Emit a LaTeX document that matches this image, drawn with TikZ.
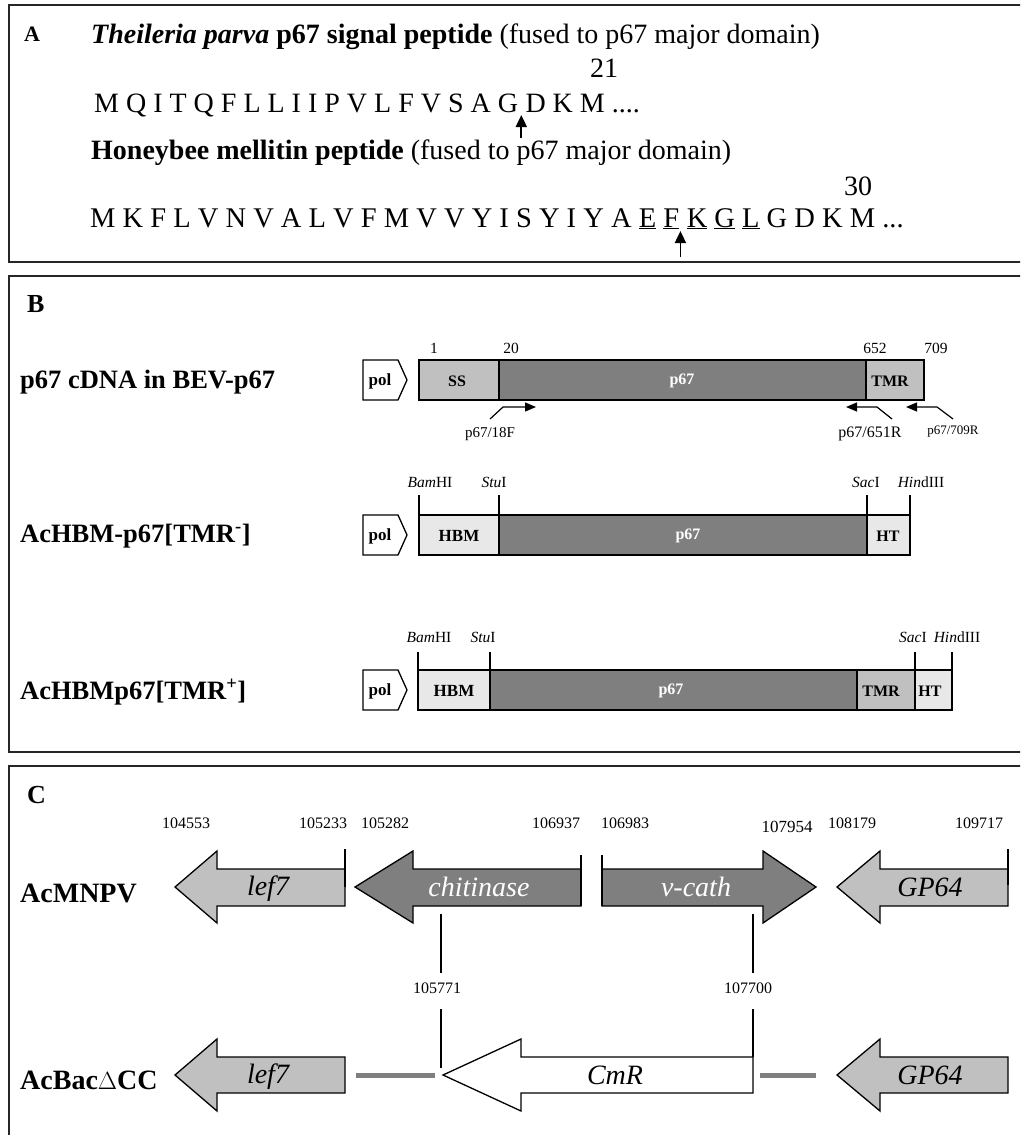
\documentclass[tikz,border=0pt]{standalone}
\usepackage{fontspec}
\setmainfont{Liberation Serif}
\usetikzlibrary{arrows.meta}
\definecolor{lgray}{HTML}{C0C0C0}
\definecolor{dgray}{HTML}{7F7F7F}
\definecolor{vlgray}{HTML}{E8E8E8}
\newcommand{\fsz}[1]{\fontsize{#1}{#1}\selectfont}
\newcommand{\myul}[1]{\underline{#1}}
\begin{document}
\begin{tikzpicture}[x=1pt,y=-1pt,
  panel/.style={draw=black!85, line width=1.6pt},
  txt/.style={anchor=base west, inner sep=0pt, font=\fsz{28}},
  seqtxt/.style={anchor=base west, inner sep=0pt, font=\fsz{28.5}},
  rowlbl/.style={anchor=base west, inner sep=0pt, font=\fsz{26.5}\bfseries},
  seg/.style={draw=black, line width=1.3pt},
  boxtxt/.style={inner sep=0pt, font=\fsz{16}\bfseries},
  small/.style={anchor=base, inner sep=0pt, font=\fsz{15.5}},
  cutarrow/.style={line width=1.8pt, -{Triangle[length=12pt,width=11pt]}},
  primer/.style={line width=1.2pt, line join=round, -{Triangle[length=11pt,width=9pt]}},
  site/.style={line width=1.2pt},
  gene/.style={draw=black, line width=1.3pt, line join=miter},
  genetxt/.style={inner sep=0pt, font=\fsz{28}\itshape},
  num/.style={anchor=base, inner sep=0pt, font=\fsz{16}},
  tick/.style={line width=1.8pt},
  vline/.style={line width=1.3pt},
  gap/.style={line width=5pt, dgray}
]
\useasboundingbox (0,0) rectangle (1020,1135);
\clip (0,0) rectangle (1020,1135);
\fill[white] (0,0) rectangle (1020,1135);
% ---------- panels
\draw[panel] (9,5) rectangle (1040,262);
\draw[panel] (9,276) rectangle (1040,752);
\draw[panel] (9,766) rectangle (1040,1150);

% ---------- panel A
\node[anchor=base west, inner sep=0pt, font=\fsz{22}\bfseries] (labA) at (24,41) {A};
\node[txt] (h1) at (91,43) {\textbf{\textit{Theileria parva} p67 signal peptide} (fused to p67 major domain)};
\node[txt, anchor=base] (n21) at (604,77) {21};
\node[seqtxt, font=\fsz{28}] (seq1a) at (94,112) {M Q I T Q F L L I I P V L F V S A G};
\node[seqtxt, font=\fsz{28}] (seq1b) at (seq1a.base east) {\ D K M ....};
\coordinate (a1t) at ([xshift=3pt,yshift=-3pt]seq1a.base east);
\coordinate (a1b) at ([xshift=3pt,yshift=-26pt]seq1a.base east);
\draw[cutarrow] (a1b) -- (a1t);
\node[txt] (h2) at (91,159) {\textbf{Honeybee mellitin peptide} (fused to p67 major domain)};
\node[txt, anchor=base] (n30) at (858,195) {30};
\node[seqtxt] (seq2a) at (90,227) {M K F L V N V A L V F M V V Y I S Y I Y A \myul{E} \myul{F}};
\node[seqtxt] (seq2b) at (seq2a.base east) {\ \myul{K} \myul{G} \myul{L} G D K M ...};
\coordinate (a2t) at ([xshift=1pt,yshift=-4pt]seq2a.base east);
\coordinate (a2b) at ([xshift=1pt,yshift=-30pt]seq2a.base east);
\draw[cutarrow] (a2b) -- (a2t);

% ---------- panel B
\node[anchor=base west, inner sep=0pt, font=\fsz{26}\bfseries] (labB) at (27,312) {B};
\node[rowlbl] (r1) at (20,388) {p67 cDNA in BEV-p67};
\node[rowlbl] (r2) at (20,542) {AcHBM-p67[TMR\textsuperscript{-}]};
\node[rowlbl] (r3) at (20,699) {AcHBMp67[TMR\textsuperscript{+}]};

% row 1
\draw[seg, fill=white] (363,360) -- (398,360) -- (407,380) -- (398,400) -- (363,400) -- cycle;
\node[boxtxt, font=\fsz{17}\bfseries] (pol1) at (380,381) {pol};
\draw[seg, fill=lgray] (419,360) rectangle (499,400);
\node[boxtxt] (ss1) at (457,381) {SS};
\draw[seg, fill=dgray] (499,360) rectangle (866,400);
\node[boxtxt, text=white] (p671) at (682,381) {p67};
\draw[seg, fill=lgray] (866,360) rectangle (924,400);
\node[boxtxt] (tmr1) at (890,381) {TMR};
\node[small] (k1) at (434,353) {1};
\node[small] (k20) at (511,353) {20};
\node[small] (k652) at (875,353) {652};
\node[small] (k709) at (936,353) {709};
% primers
\coordinate (pf0) at (490,419);
\coordinate (pf1) at (503,407);
\coordinate (pf2) at (536,407);
\draw[primer] (pf0) -- (pf1) -- (pf2);
\node[anchor=base, inner sep=0pt, font=\fsz{15}] (pf) at (490,437) {p67/18F};
\coordinate (pr0) at (892,419);
\coordinate (pr1) at (877,407);
\coordinate (pr2) at (846,407);
\draw[primer] (pr0) -- (pr1) -- (pr2);
\node[anchor=base, inner sep=0pt, font=\fsz{16}] (pr) at (870,437) {p67/651R};
\coordinate (pq0) at (953,419);
\coordinate (pq1) at (937,407);
\coordinate (pq2) at (906,407);
\draw[primer] (pq0) -- (pq1) -- (pq2);
\node[anchor=base, inner sep=0pt, font=\fsz{13}] (pq) at (953,434) {p67/709R};

% row 2
\draw[seg, fill=white] (363,515) -- (398,515) -- (407,535) -- (398,555) -- (363,555) -- cycle;
\node[boxtxt, font=\fsz{17}\bfseries] (pol2) at (380,536) {pol};
\draw[seg, fill=vlgray] (419,515) rectangle (499,555);
\node[boxtxt, font=\fsz{17}\bfseries] (hbm2) at (459,536) {HBM};
\draw[seg, fill=dgray] (499,515) rectangle (867,555);
\node[boxtxt, text=white] (p672) at (688,536) {p67};
\draw[seg, fill=vlgray] (867,515) rectangle (910,555);
\node[boxtxt] (ht2) at (888,536) {HT};
\foreach \xx in {419,499,867,910} \draw[site] (\xx,495) -- (\xx,515);
\node[small] (bam2) at (430,487) {\textit{Bam}HI};
\node[small] (stu2) at (494,487) {\textit{Stu}I};
\node[small] (sac2) at (866,487) {\textit{Sac}I};
\node[small] (hin2) at (921,487) {\textit{Hin}dIII};

% row 3
\draw[seg, fill=white] (363,670) -- (398,670) -- (407,690) -- (398,710) -- (363,710) -- cycle;
\node[boxtxt, font=\fsz{17}\bfseries] (pol3) at (380,691) {pol};
\draw[seg, fill=vlgray] (418,670) rectangle (490,710);
\node[boxtxt, font=\fsz{17}\bfseries] (hbm3) at (454,691) {HBM};
\draw[seg, fill=dgray] (490,670) rectangle (857,710);
\node[boxtxt, text=white] (p673) at (671,691) {p67};
\draw[seg, fill=lgray] (857,670) rectangle (915,710);
\node[boxtxt] (tmr3) at (881,691) {TMR};
\draw[seg, fill=vlgray] (915,670) rectangle (952,710);
\node[boxtxt] (ht3) at (930,691) {HT};
\foreach \xx in {418,490,915,952} \draw[site] (\xx,652) -- (\xx,670);
\node[small] (bam3) at (429,642) {\textit{Bam}HI};
\node[small] (stu3) at (483,642) {\textit{Stu}I};
\node[small] (sac3) at (913,642) {\textit{Sac}I};
\node[small] (hin3) at (957,642) {\textit{Hin}dIII};

% ---------- panel C
\node[anchor=base west, inner sep=0pt, font=\fsz{26}\bfseries] (labC) at (27,803) {C};
\node[anchor=base west, inner sep=0pt, font=\fsz{28}\bfseries] (rc1) at (20,902) {AcMNPV};
\node[anchor=base west, inner sep=0pt, font=\fsz{28}\bfseries] (rc2) at (20,1089) {AcBac$\Delta$CC};

\node[num] (c1) at (186,828) {104553};
\node[num] (c2) at (323,828) {105233};
\node[num] (c3) at (385,828) {105282};
\node[num] (c4) at (556,828) {106937};
\node[num] (c5) at (625,828) {106983};
\node[num, font=\fsz{17}] (c6) at (787,832) {107954};
\node[num] (c7) at (852,828) {108179};
\node[num] (c8) at (979,828) {109717};

% AcMNPV row (center y = 887)
\draw[gene, fill=lgray] (175,887) -- (217,851) -- (217,869) -- (345,869) -- (345,906) -- (217,906) -- (217,923) -- cycle;
\node[genetxt] (lef7a) at (268,889) {lef7};
\draw[tick] (345,849) -- (345,887);
\draw[gene, fill=dgray] (355,887) -- (413,851) -- (413,869) -- (581,869) -- (581,906) -- (413,906) -- (413,923) -- cycle;
\node[genetxt, text=white] (chit) at (479,887) {chitinase};
\draw[tick] (581,855) -- (581,906);
\draw[gene, fill=dgray] (602,869) -- (763,869) -- (763,851) -- (816,887) -- (763,923) -- (763,906) -- (602,906) -- cycle;
\node[genetxt, text=white] (vcath) at (696,887) {v-cath};
\draw[tick] (602,855) -- (602,906);
\draw[gene, fill=lgray] (837,887) -- (880,851) -- (880,869) -- (1008,869) -- (1008,906) -- (880,906) -- (880,923) -- cycle;
\node[genetxt] (gp64a) at (930,887) {GP64};
\draw[tick] (1008,849) -- (1008,885);

% deletion lines
\coordinate (d1a) at (441,914);
\coordinate (d1b) at (441,973);
\coordinate (d1c) at (441,1009);
\coordinate (d1d) at (441,1068);
\coordinate (d2a) at (753,914);
\coordinate (d2b) at (753,973);
\coordinate (d2c) at (753,1009);
\coordinate (d2d) at (753,1057);
\draw[vline] (d1a) -- (d1b);
\draw[vline] (d1c) -- (d1d);
\draw[vline] (d2a) -- (d2b);
\draw[vline] (d2c) -- (d2d);
\node[num] (m1) at (437,993) {105771};
\node[num] (m2) at (748,993) {107700};

% AcBacDeltaCC row (center y = 1075)
\draw[gene, fill=lgray] (175,1075) -- (217,1039) -- (217,1057) -- (345,1057) -- (345,1093) -- (217,1093) -- (217,1111) -- cycle;
\node[genetxt] (lef7b) at (268,1077) {lef7};
\coordinate (g1a) at (356,1075);
\coordinate (g1b) at (435,1075);
\draw[gap] (g1a) -- (g1b);
\draw[gene, fill=white] (443,1075) -- (521,1039) -- (521,1057) -- (753,1057) -- (753,1093) -- (521,1093) -- (521,1111) -- cycle;
\node[genetxt] (cmr) at (615,1075) {CmR};
\coordinate (g2a) at (760,1075);
\coordinate (g2b) at (816,1075);
\draw[gap] (g2a) -- (g2b);
\draw[gene, fill=lgray] (837,1075) -- (880,1039) -- (880,1057) -- (1008,1057) -- (1008,1093) -- (880,1093) -- (880,1111) -- cycle;
\node[genetxt] (gp64b) at (930,1075) {GP64};
\end{tikzpicture}
\end{document}
